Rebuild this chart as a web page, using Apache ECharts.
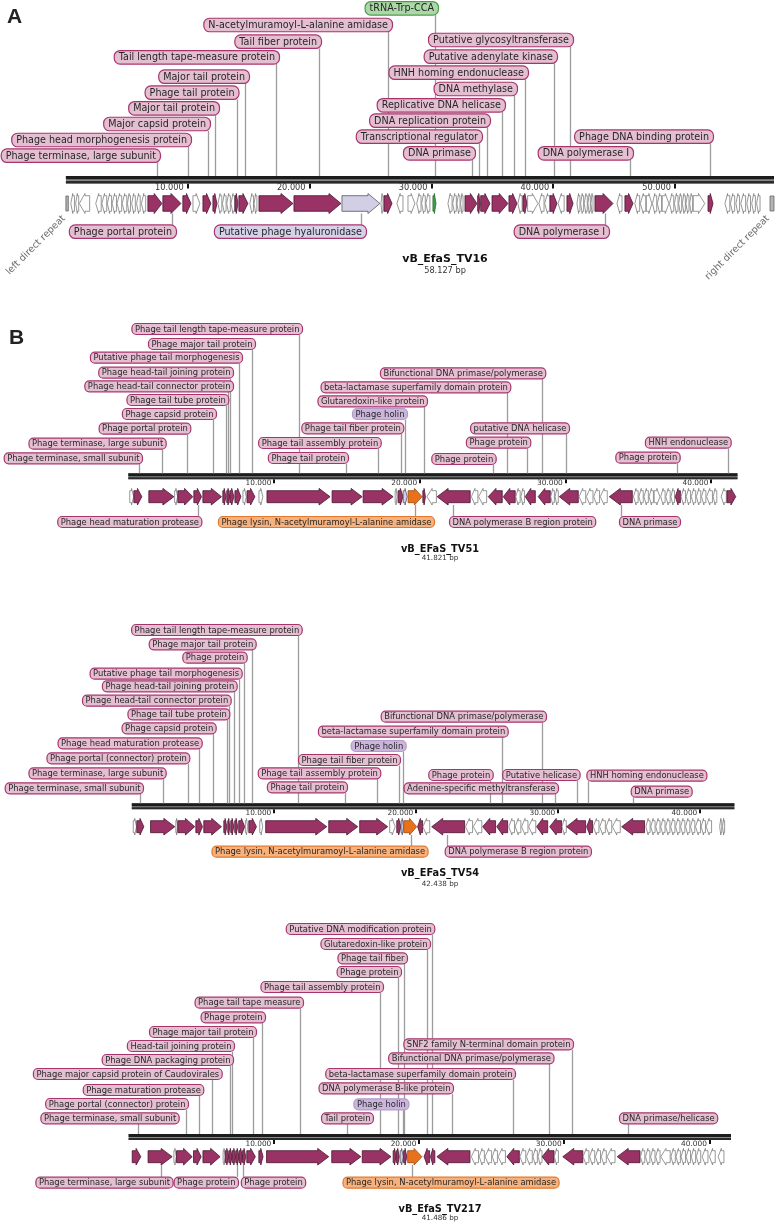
<!DOCTYPE html>
<html><head><meta charset="utf-8">
<script src="https://cdn.jsdelivr.net/npm/echarts@6/dist/echarts.min.js"></script>
<style>html,body{margin:0;padding:0;background:#fff}#c{width:777px;height:1223px}</style>
</head><body><div id="c"></div>
<script>
// ================= DATA =================
// gene kinds: 0 other (white), 1 annotated (magenta), 2 lavender, 3 lysin (orange), 4 tRNA (green), 5 direct repeat (grey)
// label kinds: 0 pink, 1 lavender (hyaluronidase), 2 holin, 3 lysin (orange), 4 tRNA (green)

const tv16Length = 58127;
const tv16Ticks = [10000, 20000, 30000, 40000, 50000];
const tv16Genes = [
 [0,200,1,5],
 [400,700,-1,0],[800,1050,-1,0],[1100,1950,-1,0],[2450,2900,-1,0],[2950,3350,-1,0],[3400,3750,-1,0],[3800,4150,-1,0],[4200,4580,-1,0],[4620,5000,-1,0],[5050,5300,-1,0],[5400,5700,-1,0],[5800,6100,-1,0],[6200,6550,-1,0],
 [6730,7880,1,1],[7960,9440,1,1],[9600,10260,1,1],
 [10430,11000,1,0],
 [11250,11900,1,1],[12070,12400,1,1],
 [12480,12800,-1,0],[12850,13150,-1,0],[13200,13500,-1,0],[13550,13850,-1,0],
 [13880,14120,1,1],[14200,14940,1,1],
 [15100,15400,-1,0],[15450,15680,-1,0],
 [15850,18640,1,1],[18720,22580,1,1],
 [22660,25780,1,2],
 [25860,26030,-1,0],
 [26110,26770,1,1],
 [27170,27670,-1,0],[28080,28650,1,0],[28800,29150,-1,0],[29200,29500,-1,0],[29550,29880,-1,0],
 [30130,30380,1,4],
 [31360,31700,-1,0],[31750,32050,-1,0],[32100,32350,-1,0],[32400,32600,-1,0],
 [32760,33740,1,1],[33800,34000,1,1],[34050,34810,1,1],[34980,36290,1,1],[36370,37030,1,1],
 [37100,37450,-1,0],
 [37520,37850,1,1],
 [37900,38750,1,0],[38830,39250,-1,0],[39300,39730,-1,0],
 [39740,40310,1,1],
 [40400,40900,-1,0],
 [41130,41630,1,1],
 [41950,42200,-1,0],[42250,42500,-1,0],[42550,42800,-1,0],[42850,43050,-1,0],[43100,43270,-1,0],
 [43430,44910,1,1],
 [45240,45650,-1,0],
 [45890,46550,1,1],
 [46700,47100,-1,0],[47150,47600,-1,0],[47650,48100,1,0],[48150,48500,-1,0],[48550,48900,-1,0],[48950,49500,1,0],[49550,49900,-1,0],[49950,50250,-1,0],[50300,50550,-1,0],[50600,50850,-1,0],[50900,51150,-1,0],[51200,51450,-1,0],[51500,52450,1,0],
 [52710,53120,1,1],
 [54100,54500,-1,0],[54550,54900,-1,0],[55000,55300,-1,0],[55400,55800,-1,0],[55900,56200,-1,0],[56300,56600,-1,0],[56700,56980,-1,0],
 [57800,58127,1,5]
];
const tv16LabelNames = ['tRNA-Trp-CCA','N-acetylmuramoyl-L-alanine amidase','Tail fiber protein','Tail length tape-measure protein','Major tail protein','Phage tail protein','Major tail protein','Major capsid protein','Phage head morphogenesis protein','Phage terminase, large subunit','Putative glycosyltransferase','Putative adenylate kinase','HNH homing endonuclease','DNA methylase','Replicative DNA helicase','DNA replication protein','Transcriptional regulator','DNA primase','Phage DNA binding protein','DNA polymerase I','Phage portal protein','Putative phage hyaluronidase','DNA polymerase I'];
const tv16LabelPos = [30296,26429,20775,17246,14700,14044,12240,11664,10022,7478,41375,40062,37681,36778,35793,34562,33900,33330,52864,46297,8709,24222,44245];
const tv16LabelKinds = [4,0,0,0,0,0,0,0,0,0,0,0,0,0,0,0,0,0,0,0,0,1,0];

const tv51Length = 41821;
const tv51Ticks = [10000, 20000, 30000, 40000];
const tv51Genes = [
 [100,370,1,0],[380,930,1,1],[1410,3130,1,1],[3180,3380,1,0],[3400,4430,1,1],[4500,5030,1,1],[5120,6400,1,1],
 [6490,6700,1,1],[6760,6950,1,1],[6970,7250,1,1],[7320,7730,1,1],[7870,8100,1,0],[8150,8690,1,1],[8970,9240,1,0],
 [9520,13850,1,1],[13990,16050,1,1],[16120,18180,1,1],[18320,18450,1,0],[18520,18860,1,1],[18870,19150,1,2],[19210,20170,1,3],
 [20220,20400,1,1],[20500,21150,-1,0],[21200,23470,-1,1],[23550,24000,-1,0],[24050,24600,-1,0],[24710,25670,-1,1],[25740,26560,-1,1],
 [26600,26900,-1,0],[26950,27200,-1,0],[27250,27940,-1,1],[28140,28970,-1,1],[29000,29250,-1,0],[29300,29520,-1,0],[29590,30890,-1,1],
 [30950,31400,-1,0],[31450,31900,-1,0],[31950,32350,-1,0],[32400,32880,-1,0],[33020,34600,-1,1],
 [34680,35000,-1,0],[35050,35350,-1,0],[35400,35700,-1,0],[35750,36050,-1,0],[36100,36500,1,0],[36550,36850,-1,0],[36900,37200,-1,0],[37250,37500,-1,0],
 [37550,37900,-1,1],
 [37950,38250,-1,0],[38300,38600,-1,0],[38650,38950,-1,0],[39000,39300,-1,0],[39350,39650,-1,0],[39700,40100,-1,0],[40150,40400,-1,0],
 [40700,41050,-1,0],[41100,41700,1,1]
];
const tv51LabelNames = ['Phage tail length tape-measure protein','Phage major tail protein','Putative phage tail morphogenesis','Phage head-tail joining protein','Phage head-tail connector protein','Phage tail tube protein','Phage capsid protein','Phage portal protein','Phage terminase, large subunit','Phage terminase, small subunit','Bifunctional DNA primase/polymerase','beta-lactamase superfamily domain protein','Glutaredoxin-like protein','Phage holin','Phage tail fiber protein','Phage tail assembly protein','Phage tail protein','putative DNA helicase','Phage protein','Phage protein','HNH endonuclease','Phage protein','Phage head maturation protease','Phage lysin, N-acetylmuramoyl-L-alanine amidase','DNA polymerase B region protein','DNA primase'];
const tv51LabelPos = [11719,8492,7600,6982,6844,6687,5815,4009,2334,735,28380,25977,20300,18996,18700,17163,14945,30048,27350,25057,41190,37689,4806,19682,22290,33804];
const tv51LabelKinds = [0,0,0,0,0,0,0,0,0,0,0,0,0,2,0,0,0,0,0,0,0,0,0,3,0,0];

const tv54Length = 42438;
const tv54Ticks = [10000, 20000, 30000, 40000];
const tv54Genes = [
 [100,330,1,0],[350,850,1,1],[1320,3030,1,1],[3100,3220,1,0],[3240,4430,1,1],[4510,4980,1,1],[5070,6310,1,1],
 [6480,6690,1,1],[6760,6900,1,1],[6970,7180,1,1],[7250,7460,1,1],[7530,7950,1,1],[8000,8160,1,0],[8240,8780,1,1],[9010,9220,1,0],
 [9430,13730,1,1],[13870,15910,1,1],[16050,18020,1,1],[18160,18550,1,0],[18660,18950,1,1],[18960,19140,1,2],[19150,20060,1,3],
 [20130,20480,-1,1],[20500,20980,-1,0],[21120,23440,-1,1],[23500,24000,-1,0],[24050,24650,-1,0],[24710,25620,-1,1],[25700,26470,-1,1],
 [26550,26950,-1,0],[27000,27400,-1,0],[27450,27900,-1,0],[27950,28450,-1,0],[28510,29290,-1,1],[29430,30270,-1,1],[30300,30600,-1,0],
 [30620,31960,-1,1],[32030,32450,-1,1],[32500,32900,-1,0],[32950,33350,-1,0],[33400,33800,-1,0],[33850,34400,-1,0],[34500,36110,-1,1],
 [36200,36500,-1,0],[36550,36850,-1,0],[36900,37200,-1,0],[37250,37550,-1,0],[37600,37900,-1,0],[37950,38250,-1,0],[38300,38600,-1,0],[38650,38950,-1,0],[39000,39300,-1,0],[39350,39650,-1,0],[39700,40050,-1,0],[40100,40400,-1,0],[40450,40830,-1,0],
 [41400,41550,-1,0],[41600,41750,-1,0]
];
const tv54LabelNames = ['Phage tail length tape-measure protein','Phage major tail protein','Phage protein','Putative phage tail morphogenesis','Phage head-tail joining protein','Phage head-tail connector protein','Phage tail tube protein','Phage capsid protein','Phage head maturation protease','Phage portal (connector) protein','Phage terminase, large subunit','Phage terminase, small subunit','Bifunctional DNA primase/polymerase','beta-lactamase superfamily domain protein','Phage holin','Phage tail fiber protein','Phage tail assembly protein','Phage tail protein','Phage protein','Adenine-specific methyltransferase','Putative helicase','HNH homing endonuclease','DNA primase','Phage lysin, N-acetylmuramoyl-L-alanine amidase','DNA polymerase B region protein'];
const tv54LabelPos = [11725,8486,7922,7570,7218,6866,6683,5739,4753,3937,2218,577,28865,26090,19119,18816,17246,15013,25225,29802,31330,32147,35316,19640,22218];
const tv54LabelKinds = [0,0,0,0,0,0,0,0,0,0,0,0,0,0,2,0,0,0,0,0,0,0,0,3,0];

const tv217Length = 41486;
const tv217Ticks = [10000, 20000, 30000, 40000];
const tv217Genes = [
 [250,840,1,1],[1340,3000,1,1],[3120,3280,1,0],[3300,4380,1,1],[4470,5000,1,1],[5120,6300,1,1],[6510,6650,1,0],[6660,6890,1,1],[6900,7130,1,1],[7140,7370,1,1],[7380,7600,1,1],[7610,7840,1,1],[7850,8070,1,1],[8140,8730,1,1],[8970,9260,1,1],
 [9500,13780,1,1],[13990,16000,1,1],[16090,18070,1,1],[18220,18420,1,1],[18440,18640,1,1],[18700,18920,1,2],[18940,19160,1,1],[19220,20200,1,3],
 [20350,20730,-1,1],[20790,21090,-1,1],[21230,23510,-1,1],
 [23600,24100,-1,0],[24150,24500,-1,0],[24550,25000,-1,0],[25050,25400,-1,0],[25450,25950,-1,0],[26050,26910,-1,1],[26950,27350,-1,0],[27400,27800,-1,0],[27850,28150,-1,0],[28200,28470,-1,0],[28480,29300,-1,1],[29320,29600,-1,0],[29900,31280,-1,1],
 [31300,31700,-1,0],[31750,32100,-1,0],[32150,32500,-1,0],[32550,32900,-1,0],[32950,33500,-1,0],[33650,35220,-1,1],
 [35250,35550,-1,0],[35600,35900,-1,0],[35950,36250,-1,0],[36300,36600,-1,0],[36650,37300,-1,0],[37350,37650,-1,0],[37700,38000,-1,0],[38050,38350,-1,0],[38400,38700,-1,0],[38750,39050,-1,0],[39100,39400,-1,0],[39500,39900,-1,0],[40000,40400,-1,0],[40600,41000,-1,0]
];
const tv217LabelNames = ['Putative DNA modification protein','Glutaredoxin-like protein','Phage tail fiber','Phage protein','Phage tail assembly protein','Phage tail tape measure','Phage protein','Phage major tail protein','Head-tail joining protein','Phage DNA packaging protein','Phage major capsid protein of Caudovirales','Phage maturation protease','Phage portal (connector) protein','Phage terminase, small subunit','SNF2 family N-terminal domain protein','Bifunctional DNA primase/polymerase','beta-lactamase superfamily domain protein','DNA polymerase B-like protein','Phage holin','Tail protein','DNA primase/helicase','Phage terminase, large subunit','Phage protein','Phage protein','Phage lysin, N-acetylmuramoyl-L-alanine amidase'];
const tv217LabelPos = [20895,20530,18988,18533,17314,11804,9208,8588,7121,6983,5764,4828,3939,634,30537,28918,26474,22272,18870,15027,34394,2259,7486,7879,19518];
const tv217LabelKinds = [0,0,0,0,0,0,0,0,0,0,0,0,0,0,0,0,0,0,2,0,0,0,0,0,3];

// ================= LAYOUT (pixels) =================
// label layout: [centre y, side (0 above / 1 below), anchor ('r' right edge, 'l' left edge, 'c' centre), offset]
const tv16LabelLayout = [[8.3,0,'r',3],[25,0,'r',4],[41.7,0,'r',2],[57.3,0,'r',3],[76.7,0,'r',4],[92.7,0,'r',1.5],[108.3,0,'r',4],[124,0,'r',2],[140,0,'r',3],[155.7,0,'r',3],[40,0,'r',3],[56.7,0,'r',3],[72.7,0,'r',3],[89,0,'r',3],[105.3,0,'r',3],[120.7,0,'r',3],[136.7,0,'r',3],[153.3,0,'r',3],[136.7,0,'r',3],[153.3,0,'r',3],[231.7,1,'r',4],[231.7,1,'r',5],[231.7,1,'r',4]];
const tv51LabelLayout = [[329,0,'r',3],[344,0,'r',3],[357.7,0,'r',3],[372.7,0,'r',3],[386.3,0,'r',5],[400,0,'r',2.3],[414,0,'r',3],[428.7,0,'r',3.3],[443.7,0,'r',3.7],[458.3,0,'r',3],[373.3,0,'r',3.3],[387.3,0,'r',3.3],[401.3,0,'r',3],[414,0,'r',2],[428.3,0,'r',2.3],[443,0,'r',2.7],[458,0,'r',2],[428.3,0,'r',3],[442.7,0,'r',3.3],[459,0,'r',2.7],[442.7,0,'r',2.7],[457.7,0,'r',2.7],[522,1,'r',3.4],[522,1,'r',19],[522,1,'l',4],[522,1,'l',2]];
const tv54LabelLayout = [[630,0,'r',3.7],[644.3,0,'r',3.7],[657.7,0,'r',2.7],[673.7,0,'r',2.7],[686.3,0,'r',2.7],[700.7,0,'r',1.7],[714.3,0,'r',2.3],[728.3,0,'r',2.7],[743.3,0,'r',2.7],[758.3,0,'r',1.3],[773.3,0,'r',2.7],[788.3,0,'r',3],[716.7,0,'r',4],[731.7,0,'r',5.7],[746,0,'r',2.7],[760,0,'r',1],[773.3,0,'r',3.3],[787.3,0,'r',2],[775,0,'r',2.7],[788.3,0,'r',3],[775,0,'r',2.6],[775.7,0,'l',1.6],[791.7,0,'l',2.3],[851.7,1,'r',16.6],[851.7,1,'l',2.3]];
const tv217LabelLayout = [[929,0,'r',2.3],[944,0,'r',3],[958.3,0,'r',3],[972,0,'r',3],[987,0,'r',3],[1002.7,0,'r',3],[1017.3,0,'r',3],[1032,0,'r',3],[1046,0,'r',2],[1060,0,'r',3],[1074,0,'r',9.7],[1090,0,'r',4.3],[1104,0,'r',2],[1118.3,0,'r',40.7],[1044.3,0,'r',1],[1058.3,0,'r',4.5],[1074,0,'r',2],[1088.3,0,'r',1],[1104.3,0,'r',5.4],[1118.3,0,'c',0],[1118.3,0,'l',9],[1182.7,1,'r',11.6],[1182.7,1,'r',1],[1182.7,1,'l',2.2],[1182.7,1,'l',69.5]];

const FONT = '"DejaVu Sans", Verdana, sans-serif';
const GENE_STYLE = {
  0:{fill:'#ffffff',stroke:'#7d7d7d'},
  1:{fill:'#993366',stroke:'#4a1530'},
  2:{fill:'#d2cfe5',stroke:'#555566'},
  3:{fill:'#e8711c',stroke:'#9a4a10'},
  4:{fill:'#3f9f4f',stroke:'#2a6a30'},
  5:{fill:'#b4b4b4',stroke:'#666666'}
};
const LABEL_STYLE = {
  0:{fill:'#e4bfd1',stroke:'#a8346e'},
  1:{fill:'#d6d2ea',stroke:'#a8346e'},
  2:{fill:'#cbb5dd',stroke:'#b39bcb'},
  3:{fill:'#f7b17c',stroke:'#e2782c'},
  4:{fill:'#abd8a6',stroke:'#4c9c4c'}
};

const MAPS = [
 {title:'vB_EfaS_TV16', size:'58.127 bp', len:tv16Length, ticks:tv16Ticks, genes:tv16Genes, names:tv16LabelNames, pos:tv16LabelPos, kinds:tv16LabelKinds, layout:tv16LabelLayout,
  left:65.9, width:708.1, top:183.5, bb:[[-7.5,-4.2],[-2.6,0]], geneMid:20, headH:10, bodyH:7.8, headL:12, font:9.6, boxH:13.5, padX:4.5, tickFont:8.2, tickLen:5, tickPad:4,
  titleX:445, titleY:259.3, titleFont:11, sizeY:271, sizeFont:8.2},
 {title:'vB_EFaS_TV51', size:'41.821 bp', len:tv51Length, ticks:tv51Ticks, genes:tv51Genes, names:tv51LabelNames, pos:tv51LabelPos, kinds:tv51LabelKinds, layout:tv51LabelLayout,
  left:128.3, width:609.2, top:479.3, bb:[[-6,-3.1],[-2,0]], geneMid:17.4, headH:8.3, bodyH:6, headL:11, font:8.4, boxH:11, padX:3, tickFont:7.4, tickLen:4, tickPad:2.5,
  titleX:440, titleY:549.3, titleFont:9.8, sizeY:558.5, sizeFont:7.2},
 {title:'vB_EFaS_TV54', size:'42.438 bp', len:tv54Length, ticks:tv54Ticks, genes:tv54Genes, names:tv54LabelNames, pos:tv54LabelPos, kinds:tv54LabelKinds, layout:tv54LabelLayout,
  left:131.8, width:602.6, top:809.3, bb:[[-6,-3.1],[-2,0]], geneMid:17.4, headH:8.3, bodyH:6, headL:11, font:8.4, boxH:11, padX:3, tickFont:7.4, tickLen:4, tickPad:2.5,
  titleX:440, titleY:873.3, titleFont:9.8, sizeY:884, sizeFont:7.2},
 {title:'vB_EfaS_TV217', size:'41.486 bp', len:tv217Length, ticks:tv217Ticks, genes:tv217Genes, names:tv217LabelNames, pos:tv217LabelPos, kinds:tv217LabelKinds, layout:tv217LabelLayout,
  left:128.6, width:602.4, top:1140, bb:[[-6,-3.1],[-2,0]], geneMid:16.7, headH:8.3, bodyH:6, headL:11, font:8.4, boxH:11, padX:3, tickFont:7.4, tickLen:4, tickPad:2.5,
  titleX:440, titleY:1209.3, titleFont:9.8, sizeY:1218.3, sizeFont:7.2}
];

// ================= RENDERING =================
const _ctx = document.createElement('canvas').getContext('2d');
function textW(t, size){ _ctx.font = size + 'px ' + FONT; return _ctx.measureText(t).width; }
function fmt(v){ return String(v).replace(/\B(?=(\d{3})+(?!\d))/g, '.'); }

function backboneRenderer(m){
  return function(params, api){
    const a = api.coord([api.value(0), 0]), b = api.coord([api.value(1), 0]);
    return {type:'group', children:[
      {type:'rect', shape:{x:a[0], y:a[1]+m.bb[0][0], width:b[0]-a[0], height:m.bb[1][1]-m.bb[0][0]}, style:{fill:'#8a8a8a'}},
      {type:'rect', shape:{x:a[0], y:a[1]+m.bb[0][0], width:b[0]-a[0], height:m.bb[0][1]-m.bb[0][0]}, style:{fill:'#1c1c1c'}},
      {type:'rect', shape:{x:a[0], y:a[1]+m.bb[1][0], width:b[0]-a[0], height:m.bb[1][1]-m.bb[1][0]}, style:{fill:'#2a2a2a'}}
    ]};
  };
}

function geneRenderer(m){
  return function(params, api){
    const s = api.value(0), e = api.value(1), st = api.value(2), k = api.value(3);
    const p1 = api.coord([s, 0]), p2 = api.coord([e, 0]);
    const x1 = p1[0], x2 = p2[0], cy = p1[1] + m.geneMid;
    const sty = GENE_STYLE[k];
    if (k === 5) {
      return {type:'rect', shape:{x:x1, y:cy-m.headH*0.75, width:Math.max(2,x2-x1), height:m.headH*1.5},
        style:{fill:sty.fill, stroke:sty.stroke, lineWidth:0.8}};
    }
    const len = x2 - x1;
    const hl = Math.min(m.headL, len*0.55);
    const bh = m.bodyH, hh = m.headH;
    let pts;
    if (st > 0) {
      const xh = x2 - hl;
      pts = [[x1,cy-bh],[xh,cy-bh],[xh,cy-hh],[x2,cy],[xh,cy+hh],[xh,cy+bh],[x1,cy+bh]];
    } else {
      const xh = x1 + hl;
      pts = [[x2,cy-bh],[xh,cy-bh],[xh,cy-hh],[x1,cy],[xh,cy+hh],[xh,cy+bh],[x2,cy+bh]];
    }
    return {type:'polygon', shape:{points:pts}, style:{fill:sty.fill, stroke:sty.stroke, lineWidth:0.8, lineJoin:'miter'}};
  };
}

function labelRenderer(m){
  return function(params, api){
    const i = params.dataIndex;
    const pt = api.coord([api.value(0), 0]);
    const lx = Math.round(pt[0]) + 0.5, top = pt[1];
    const name = m.names[i], kind = m.kinds[i];
    const [y, side, mode, off] = m.layout[i];
    const w = textW(name, m.font) + 2*m.padX, h = m.boxH;
    let bx;
    if (mode === 'r') bx = lx + off - w;
    else if (mode === 'l') bx = lx - off;
    else bx = lx - w/2 + off;
    const by = y - h/2;
    const y0 = side === 0 ? by + h : top + m.geneMid + m.headH;
    const y1 = side === 0 ? top + m.bb[0][0] : by;
    const ls = LABEL_STYLE[kind];
    return {type:'group', children:[
      {type:'line', z2:0, shape:{x1:lx, y1:y0, x2:lx, y2:y1}, style:{stroke:'#9c9c9c', lineWidth:1.3}},
      {type:'rect', z2:10, shape:{x:bx, y:by, width:w, height:h, r:h/2-1}, style:{fill:ls.fill, stroke:ls.stroke, lineWidth:1.2}},
      {type:'text', z2:11, x:bx + w/2, y:y + 0.5, style:{text:name, fill:'#262626', fontSize:m.font, fontFamily:FONT, align:'center', verticalAlign:'middle'}}
    ]};
  };
}

const grid = [], xAxis = [], yAxis = [], series = [], graphic = [];
MAPS.forEach((m, i) => {
  grid.push({left:m.left, top:m.top, width:m.width, height:40});
  xAxis.push({gridIndex:i, type:'value', min:0, max:m.len, interval:10000, position:'top',
    axisLine:{show:false}, splitLine:{show:false},
    axisTick:{show:true, inside:true, length:m.tickLen, customValues:m.ticks, lineStyle:{color:'#111', width:2}},
    axisLabel:{show:true, inside:true, customValues:m.ticks, formatter:fmt, align:'right', verticalAlign:'top', margin:0.5,
      padding:[0, m.tickPad, 0, 0], color:'#333', fontSize:m.tickFont, fontFamily:FONT}});
  yAxis.push({gridIndex:i, type:'value', min:0, max:40, inverse:true, show:false});
  series.push({type:'custom', xAxisIndex:i, yAxisIndex:i, data:[[0, m.len]], renderItem:backboneRenderer(m), silent:true, z:1, encode:{x:[0,1]}});
  series.push({type:'custom', xAxisIndex:i, yAxisIndex:i, data:m.genes, renderItem:geneRenderer(m), silent:true, z:2, encode:{x:[0,1]}});
  series.push({type:'custom', xAxisIndex:i, yAxisIndex:i, data:m.pos.map(v => [v]), renderItem:labelRenderer(m), silent:true, z:3, encode:{x:0}});
  graphic.push({type:'text', x:m.titleX, y:m.titleY, style:{text:m.title, fill:'#111', fontSize:m.titleFont, fontWeight:'bold', fontFamily:FONT, align:'center', verticalAlign:'middle'}});
  graphic.push({type:'text', x:m.titleX, y:m.sizeY, style:{text:m.size, fill:'#333', fontSize:m.sizeFont, fontFamily:FONT, align:'center', verticalAlign:'middle'}});
});
graphic.push({type:'text', x:7, y:17, style:{text:'A', fill:'#222', fontSize:21, fontWeight:'bold', fontFamily:'"Liberation Sans", Arial, sans-serif', align:'left', verticalAlign:'middle'}});
graphic.push({type:'text', x:9, y:338, style:{text:'B', fill:'#222', fontSize:21, fontWeight:'bold', fontFamily:'"Liberation Sans", Arial, sans-serif', align:'left', verticalAlign:'middle'}});
graphic.push({type:'text', x:64, y:217, rotation:Math.PI/4, style:{text:'left direct repeat', fill:'#6a6a6a', fontSize:9.5, fontFamily:FONT, align:'right', verticalAlign:'middle'}});
graphic.push({type:'text', x:768, y:217, rotation:Math.PI/4, style:{text:'right direct repeat', fill:'#6a6a6a', fontSize:9.5, fontFamily:FONT, align:'right', verticalAlign:'middle'}});

const chart = echarts.init(document.getElementById('c'), null, {renderer:'canvas'});
chart.setOption({animation:false, backgroundColor:'#ffffff', grid, xAxis, yAxis, series, graphic});
</script>
</body></html>
